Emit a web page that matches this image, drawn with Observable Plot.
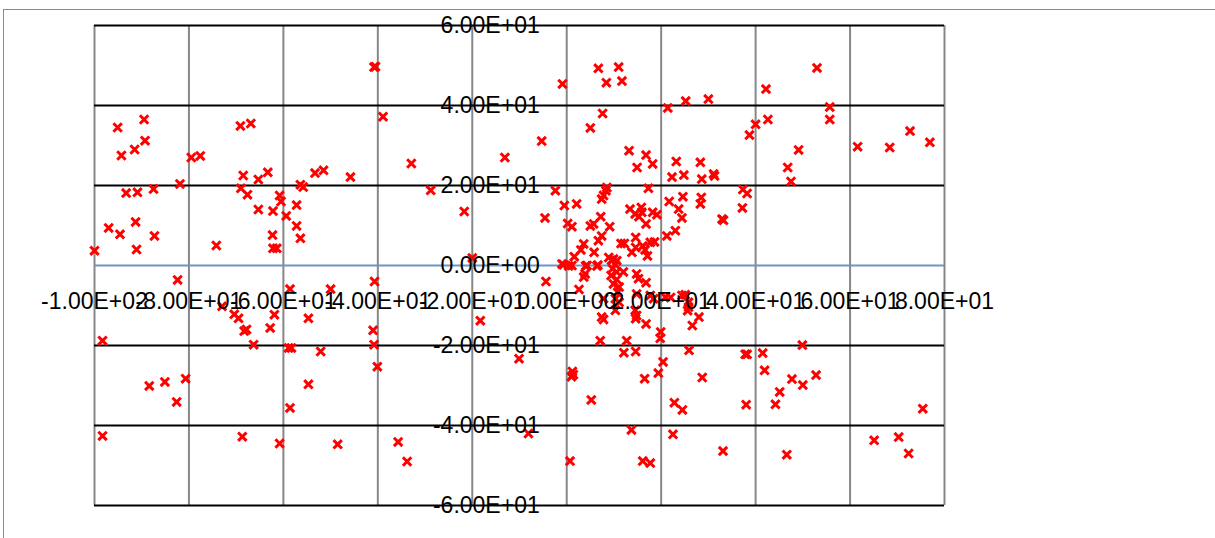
<!DOCTYPE html>
<html>
<head>
<meta charset="utf-8">
<script src="https://cdn.jsdelivr.net/npm/d3@7"></script>
<script src="https://cdn.jsdelivr.net/npm/@observablehq/plot@0.6"></script>
<style>
  html, body { margin: 0; padding: 0; background: #fff; }
  #wrap { position: relative; width: 1215px; height: 538px; overflow: hidden; }
  #frame { position: absolute; left: 3px; top: 9px; width: 1300px; height: 600px;
           border-left: 1.5px solid #8a8a8a; border-top: 1.5px solid #8a8a8a; box-sizing: border-box; }
  #chart { position: absolute; left: 0; top: 0; }
</style>
</head>
<body>
<div id="wrap"><div id="frame"></div><div id="chart"></div></div>
<script>
const xTicks = [-100, -80, -60, -40, -20, 0, 20, 40, 60, 80];
const xTickLabels = ["-1.00E+02", "-8.00E+01", "-6.00E+01", "-4.00E+01", "-2.00E+01", "0.00E+00", "2.00E+01", "4.00E+01", "6.00E+01", "8.00E+01"];
const yTicks = [-60, -40, -20, 0, 20, 40, 60];
const yTickLabels = ["-6.00E+01", "-4.00E+01", "-2.00E+01", "0.00E+00", "2.00E+01", "4.00E+01", "6.00E+01"];

const xs = [
  -89.5, -95.1, -89.3, -91.5, -94.3, -79.5, -77.6, -69.1, -66.9, -68.5,
  -65.3, -63.3, -81.9, -93.3, -90.9, -87.5, -69.0, -67.6, -60.8, -60.5,
  -56.4, -55.8, -57.2, -65.3, -62.2, -59.4, -57.2, -56.4, -62.3, -62.2,
  -61.4, -97.0, -94.6, -91.3, -87.3, -91.1, -74.2, -100.0,
  -40.8, -40.5, -38.9, -32.9, -13.1, -53.3, -51.5, -45.8, -28.8, -21.7, -20.0,
  -0.9, -5.3, 6.7, 11.0, 8.4, 11.7, 7.6, 5.0, 21.4, 25.2,
  30.0, 13.2, 16.8, 14.9, 18.2, 23.2, 28.3, 22.3, 24.8, 28.6,
  31.1, 31.3, -2.4, 8.5, 8.3, 7.8, 7.4, 17.3, 21.7, 24.6,
  23.7, 24.4, 28.3, 28.5, 32.9, 33.2, -4.6, -0.5, 2.1, 0.2,
  1.1, 5.0, 5.7, 7.2, 9.1, 7.4, 6.7, 3.6, 3.0, 1.6,
  5.8, 13.4, 15.8, 14.5, 15.3, 15.9, 16.8, 18.2, 19.1, 11.5,
  12.2, 14.6, 13.8, 14.6, 16.1, 16.6, 17.1, 17.7, 18.6, 8.9,
  9.9, 10.6, 21.2, 23.0, -1.0, -0.7, 0.4, 1.1, 4.0, 4.3,
  6.4, 6.6,
  53.0, 42.2, 55.7, 55.7, 40.0, 42.6, 38.7, 49.1, 46.8, 47.5,
  61.6, 68.4, 72.7, 76.9, 37.3, 38.2, 37.2,
  -82.4, -98.3, -73.0, -70.4, -69.5, -67.8, -68.3, -66.3, -62.8, -61.9,
  -58.6, -58.9, -58.3, -54.7, -54.7, -88.4, -85.1, -80.7, -82.6, -58.6,
  -98.3, -68.7, -60.8,
  -50.0, -40.7, -52.1, -41.0, -40.8, -40.1, -48.5, -35.7, -33.8, -18.3, -10.1,
  -4.4, -8.1, 1.2, 1.4, 1.0, 5.2, 0.7, 7.1, 12.7, 12.1,
  14.6, 16.5, 19.4, 20.4, 19.9, 19.8, 22.8, 24.5, 22.5, 13.7,
  16.1, 17.7, 25.9, 28.7, 33.1, 7.4, 7.8, 10.3, 14.5, 14.8,
  14.6, 16.8, 25.6, 26.6, 28.0, 24.4, 25.1, 25.8, 25.8, 22.0,
  20.9, 17.7, 18.4,
  9.5, 10.3, 9.7, 10.6, 9.4, 10.6, 9.9, 11.1, 10.8, 10.3,
  11.1, 12.0, 14.8, 15.2, 16.8, 3.9, 3.6, 2.6, 7.8, 14.8,
  37.8, 38.2, 41.5, 41.9, 49.9, 47.7, 50.0, 52.8, 45.1, 44.2,
  38.0, 46.6, 65.1, 70.3, 72.4, 75.4
];
const ys = [
  36.5, 34.5, 31.2, 29.0, 27.5, 27.0, 27.4, 34.9, 35.5, 22.5,
  21.5, 23.3, 20.4, 18.1, 18.3, 19.1, 19.3, 17.7, 17.5, 16.0,
  20.2, 19.6, 15.1, 14.0, 13.6, 12.4, 9.9, 6.8, 7.6, 4.3,
  4.3, 9.4, 7.8, 10.9, 7.4, 4.0, 5.0, 3.7,
  49.6, 49.7, 37.2, 25.5, 27.0, 23.1, 23.8, 22.1, 18.8, 13.5, 1.9,
  45.4, 31.1, 49.3, 49.6, 45.7, 46.1, 38.0, 34.4, 39.4, 41.1,
  41.6, 28.7, 27.6, 24.5, 25.4, 26.0, 25.8, 22.1, 22.6, 21.6,
  22.9, 22.4, 18.7, 19.5, 18.7, 17.5, 16.6, 19.3, 16.0, 17.2,
  14.1, 11.9, 15.4, 17.0, 11.6, 11.3, 11.9, 15.0, 15.4, 10.5,
  9.7, 9.9, 10.4, 12.2, 9.7, 7.4, 6.2, 5.4, 3.9, 2.2,
  3.3, 14.1, 14.5, 12.9, 12.2, 13.3, 10.4, 13.3, 12.7, 5.5,
  5.5, 7.0, 3.3, 4.5, 4.9, 3.9, 2.4, 5.8, 5.9, 2.0,
  1.6, 1.2, 7.4, 8.7, 0.4, 0.2, -0.1, 0.0, -0.1, 0.0,
  -0.1, 0.1,
  49.4, 44.1, 39.6, 36.5, 35.3, 36.5, 32.6, 28.9, 24.5, 21.0,
  29.7, 29.5, 33.6, 30.8, 19.0, 18.0, 14.4,
  -3.6, -18.8, -10.2, -12.2, -13.2, -16.0, -16.4, -19.8, -15.6, -12.3,
  -5.9, -20.6, -20.6, -13.2, -29.7, -30.1, -29.1, -28.3, -34.1, -35.6,
  -42.6, -42.8, -44.5,
  -5.9, -4.0, -21.5, -16.2, -19.8, -25.3, -44.7, -44.1, -49.0, -13.8, -23.3,
  -4.0, -42.0, -26.5, -27.3, -27.8, -33.6, -48.9, -18.8, -18.8, -21.8,
  -21.5, -28.3, -26.9, -24.1, -16.6, -18.2, -34.3, -36.1, -42.2, -41.1,
  -48.9, -49.4, -21.2, -28.0, -46.4, -12.9, -13.5, -11.2, -11.2, -12.5,
  -13.3, -14.6, -11.3, -15.0, -12.9, -7.5, -7.3, -9.2, -10.4, -8.0,
  -7.9, -7.5, -8.3,
  1.3, 0.2, -0.8, -1.6, -2.5, -3.5, -4.6, -5.4, -6.7, -8.3,
  -9.2, -1.6, -2.1, -3.3, -4.3, -2.1, -2.9, -6.0, -8.3, -7.1,
  -22.2, -22.2, -21.9, -26.2, -19.9, -28.4, -29.9, -27.4, -31.6, -34.7,
  -34.8, -47.3, -43.7, -42.9, -47.0, -35.8
];

const points = xs.map((x, i) => ({x, y: ys[i]}));
const yLabelData = yTicks.map((v, i) => ({x: 0, y: v, label: yTickLabels[i]}));
const xLabelData = xTicks.map((v, i) => ({x: v, y: 0, label: xTickLabels[i]}));

const chart = Plot.plot({
  width: 1215,
  height: 538,
  marginLeft: 94,
  marginRight: 271,
  marginTop: 25,
  marginBottom: 33,
  style: {fontFamily: "Liberation Sans, Arial, sans-serif", background: "transparent", overflow: "visible"},
  x: {domain: [-100, 80], axis: null},
  y: {domain: [-60, 60], axis: null},
  marks: [
    Plot.ruleX(xTicks, {stroke: "#878787", strokeWidth: 2}),
    Plot.ruleY(yTicks.filter(d => d !== 0), {stroke: "#000000", strokeWidth: 2}),
    Plot.ruleY([0], {stroke: "#6f94c6", strokeWidth: 2}),
    Plot.dot(points, {x: "x", y: "y", symbol: "times", stroke: "#ff0000", r: 3.9, strokeWidth: 3}),
    Plot.text(yLabelData, {x: "x", y: "y", text: "label", textAnchor: "end", dx: -27, fontSize: 23, fill: "#000"}),
    Plot.text(xLabelData, {x: "x", y: "y", text: "label", dy: 36, fontSize: 23, fill: "#000"})
  ]
});
document.getElementById("chart").appendChild(chart);
</script>
</body>
</html>
